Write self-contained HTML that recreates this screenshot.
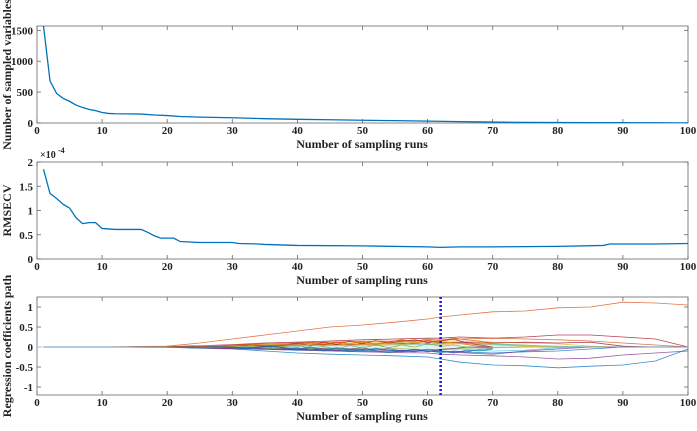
<!DOCTYPE html>
<html><head><meta charset="utf-8"><style>
body{margin:0;background:#fff;width:697px;height:426px;overflow:hidden}
svg text{font-family:"Liberation Serif",serif;font-weight:bold;fill:#222}
</style></head><body>
<svg id="c" width="697" height="426"></svg>
<script>
const runsTop=[1,2,3,4,5,6,7,8,9,10,11,12,16,18,20,22,25,30,35,40,45,50,55,60,65,70,75,80,85,90,95,100];
const sampledVars=[1570,680,480,400,350,290,250,220,200,170,155,150,145,130,120,105,95,85,70,60,52,45,38,30,22,15,10,8,6,5,3,2];
const runsR=[1,2,3,4,5,6,7,8,9,10,12,16,17,18,19,21,22,25,30,31,34,35,40,50,60,62,65,70,80,87,88,95,100];
const rmsecv=[1.85,1.35,1.25,1.13,1.05,0.85,0.73,0.75,0.75,0.63,0.61,0.61,0.55,0.48,0.43,0.43,0.36,0.34,0.34,0.32,0.31,0.30,0.28,0.27,0.25,0.24,0.25,0.25,0.26,0.28,0.31,0.31,0.32];
const runsC=[1,10,20,25,30,35,40,45,50,55,60,62,65,70,75,80,85,90,95,100];
const coefSeries=[
[0,0,0.02,0.1,0.2,0.3,0.4,0.5,0.55,0.62,0.7,0.75,0.8,0.88,0.9,0.98,1.0,1.12,1.1,1.05],
[0,0,-0.01,-0.03,-0.05,-0.1,-0.15,-0.18,-0.2,-0.22,-0.25,-0.3,-0.38,-0.45,-0.47,-0.52,-0.48,-0.45,-0.35,-0.05],
[0,0,0.01,0.03,0.06,0.1,0.12,0.15,0.18,0.2,0.22,0.22,0.25,0.22,0.25,0.3,0.3,0.25,0.2,0],
[0,0,0,-0.02,-0.04,-0.06,-0.08,-0.1,-0.12,-0.14,-0.15,-0.18,-0.2,-0.22,-0.25,-0.3,-0.28,-0.2,-0.15,-0.1],
[0,0,0.01,0.02,0.05,0.08,0.1,0.12,0.14,0.15,0.17,0.18,0.2,0.22,0.2,0.18,0.15,0.1,0.05,0],
[0,0,0,-0.01,-0.03,-0.05,-0.07,-0.08,-0.1,-0.12,-0.1,-0.1,-0.12,-0.15,-0.12,-0.1,-0.05,0,0,0],
[0,0,0.01,0.03,0.04,0.06,0.08,0.1,0.1,0.12,0.14,0.15,0.15,0.12,0.1,0.08,0.02,0,0,0],
[0,0,0,0.02,0.03,0.05,0.06,0.05,0.08,0.1,0.1,0.12,0.1,0.08,0.05,0,0,0,0,0],
[0,0,-0.01,-0.02,-0.03,-0.04,-0.05,-0.06,-0.06,-0.08,-0.08,-0.07,-0.05,-0.1,-0.08,-0.02,0,0,0,0],
[0,0,0.01,0.01,0.03,0.04,0.05,0.07,0.06,0.08,0.1,0.1,0.12,0.1,0.12,0.1,0.12,0.02,0,0],
[0,0,0,-0.01,-0.02,-0.02,-0.04,-0.03,-0.05,-0.04,-0.06,-0.05,-0.03,-0.02,0,0,0,0,0,0],
[0,0,0.01,0.02,0.02,0.03,0.05,0.04,0.06,0.07,0.05,0.06,0.08,0.05,0.02,0,0,0,0,0],
[0,0,0,-0.02,-0.03,-0.05,-0.06,-0.08,-0.07,-0.09,-0.1,-0.12,-0.14,-0.18,-0.1,-0.05,0,0,0,0],
[0,0,0,0.01,0.02,0.03,0.02,0.04,0.03,0.05,0.06,0.08,0.1,0.06,0.04,0.02,0,0,0,0]
];
// denser zig-zag paths in the crowded region
const runsZ=[20,24,28,32,36,40,42,44,46,48,50,52,54,56,58,60,62,64,66,68,70];
const zigSeries=[
[0,0.02,-0.02,0.05,0.0,0.1,0.04,0.12,0.06,0.15,0.08,0.16,0.1,0.14,0.18,0.12,0.15,0.2,0.1,0.05,0],
[0,-0.02,0.03,-0.04,0.02,-0.08,-0.02,-0.1,-0.04,-0.12,-0.06,-0.1,-0.14,-0.08,-0.12,-0.05,-0.1,-0.15,-0.08,-0.1,-0.05],
[0,0.03,0.0,0.06,0.02,0.04,0.1,0.05,0.12,0.08,0.14,0.06,0.12,0.18,0.1,0.16,0.1,0.12,0.06,0.02,0],
[0,-0.01,-0.04,0.0,-0.06,-0.02,-0.08,-0.03,-0.1,-0.05,-0.02,-0.08,-0.04,-0.1,-0.06,-0.12,-0.06,-0.04,0,0,0],
[0,0.01,0.04,0.02,0.08,0.03,0.06,0.1,0.04,0.09,0.12,0.05,0.1,0.06,0.12,0.08,0.14,0.1,0.08,0.12,0.05],
[0,0.0,-0.02,0.03,-0.03,0.05,-0.04,0.02,-0.06,0.04,-0.03,0.06,-0.02,0.05,0.0,0.08,0.02,0.05,0.0,-0.02,0],
[0,0.02,0.0,-0.03,0.02,-0.05,0.0,-0.07,-0.02,-0.05,-0.09,-0.03,-0.08,-0.12,-0.06,-0.1,-0.14,-0.1,-0.12,-0.06,-0.04],
[0,0.01,0.03,0.06,0.04,0.08,0.12,0.07,0.1,0.14,0.1,0.16,0.12,0.18,0.14,0.2,0.16,0.22,0.18,0.15,0.1]
];
const colors=["#D95319","#0072BD","#A2142F","#7E2F8E","#D95319","#0072BD","#EDB120","#77AC30","#4DBEEE","#A2142F","#77AC30","#EDB120","#7E2F8E","#4DBEEE"];
const zigColors=["#A2142F","#0072BD","#D95319","#7E2F8E","#EDB120","#77AC30","#0072BD","#D95319"];
const xTicks=[0,10,20,30,40,50,60,70,80,90,100];
const ns="http://www.w3.org/2000/svg";
const svg=document.getElementById('c');
function el(t,a,p){const e=document.createElementNS(ns,t);for(const k in a)e.setAttribute(k,a[k]);(p||svg).appendChild(e);return e;}
const X0=37,X1=688;
const sx=v=>X0+(X1-X0)*v/100;
function panel(name,top,bot,ymin,ymax,yticks,ylabels,ylab){
 const g=el('g',{});
 
 
 const sy=v=>bot-(bot-top)*(v-ymin)/(ymax-ymin);
 const r=el('rect',{x:X0,y:top,width:X1-X0,height:bot-top,fill:'none',stroke:'#666','stroke-width':0.8},g);
 
 
 xTicks.forEach(t=>{
  el('line',{x1:sx(t),x2:sx(t),y1:bot,y2:bot-4,stroke:'#666','stroke-width':0.8},g);
  el('line',{x1:sx(t),x2:sx(t),y1:top,y2:top+4,stroke:'#666','stroke-width':0.8},g);
  const tx=el('text',{x:sx(t),y:bot+11,'font-size':11,'text-anchor':'middle'},g);tx.textContent=t;
  
  
 });
 yticks.forEach((t,i)=>{
  el('line',{x1:X0,x2:X0+4,y1:sy(t),y2:sy(t),stroke:'#666','stroke-width':0.8},g);
  el('line',{x1:X1,x2:X1-4,y1:sy(t),y2:sy(t),stroke:'#666','stroke-width':0.8},g);
  const tx=el('text',{x:X0-4,y:sy(t)+4,'font-size':11,'text-anchor':'end'},g);tx.textContent=ylabels[i];
  
  
 });
 const xt=el('text',{x:362,y:bot+25,'font-size':12,'text-anchor':'middle'},g);xt.textContent='Number of sampling runs';
 
 
 const yt=el('text',{x:0,y:0,'font-size':12,'text-anchor':'middle',transform:`translate(11,${(top+bot)/2}) rotate(-90)`},g);yt.textContent=ylab;
 
 
 return {g,sy};
}
let p=panel('sampled-variables-panel',26,123,0,1570,[0,500,1000,1500],['0','500','1000','1500'],'Number of sampled variables');
let cp=el('clipPath',{id:'c1'});el('rect',{x:X0,y:26,width:X1-X0,height:97},cp);
let l=el('polyline',{points:runsTop.map((r,i)=>sx(r)+','+p.sy(sampledVars[i])).join(' '),fill:'none',stroke:'#0072BD','stroke-width':1.3,'clip-path':'url(#c1)'},p.g);


p=panel('rmsecv-panel',162,259,0,2,[0,0.5,1,1.5,2],['0','0.5','1','1.5','2'],'RMSECV');
l=el('polyline',{points:runsR.map((r,i)=>sx(r)+','+p.sy(rmsecv[i])).join(' '),fill:'none',stroke:'#0072BD','stroke-width':1.3},p.g);


let ex=el('text',{x:40,y:158,'font-size':10,'font-weight':'normal'},p.g);ex.textContent='×10';


let ex2=el('text',{x:58,y:153,'font-size':8,'font-weight':'normal'},p.g);ex2.textContent='-4';
p=panel('coefficient-path-panel',297,395,-1.2,1.25,[-1,-0.5,0,0.5,1],['-1','-0.5','0','0.5','1'],'Regression coefficients path');
l=el('line',{x1:sx(0),x2:sx(100),y1:p.sy(0),y2:p.sy(0),stroke:'#9fd8ee','stroke-width':0.8},p.g);
coefSeries.forEach((s,k)=>{
 const pl=el('polyline',{points:runsC.map((r,i)=>sx(r)+','+p.sy(s[i])).join(' '),fill:'none',stroke:colors[k],'stroke-width':0.8,'stroke-opacity':0.8},p.g);
 
 
});
zigSeries.forEach((s,k)=>{
 const pl=el('polyline',{points:runsZ.map((r,i)=>sx(r)+','+p.sy(s[i])).join(' '),fill:'none',stroke:zigColors[k],'stroke-width':0.8,'stroke-opacity':0.8},p.g);
 
 
});
const optRun=62;
l=el('line',{x1:sx(optRun),x2:sx(optRun),y1:297,y2:395,stroke:'#1a1aee','stroke-width':2.5,'stroke-dasharray':'2,2'},p.g);


</script>
</body></html>
